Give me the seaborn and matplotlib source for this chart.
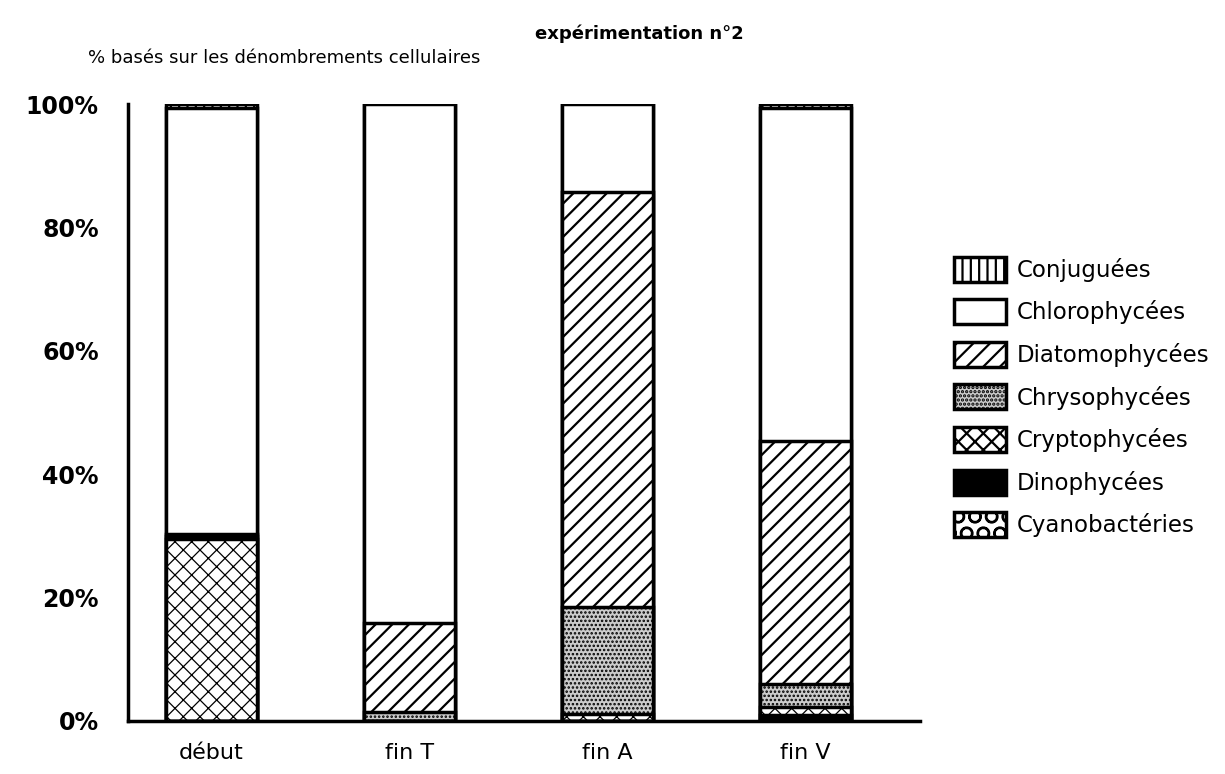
import numpy as np
import pandas as pd
import matplotlib
matplotlib.use("Agg")
import matplotlib.pyplot as plt
import matplotlib.patches as mpatches
import seaborn as sns

# ==========================================
#           DATA (% of cell counts)
# ==========================================
stages = ["début", "fin T", "fin A", "fin V"]

# bottom -> top stacking order
cyanobacteries = [0.0, 0.0, 0.0, 0.0]
dinophycees = [0.0, 0.0, 0.0, 1.0]
cryptophycees = [29.5, 0.0, 1.2, 1.3]
chrysophycees = [0.5, 1.5, 17.3, 3.7]
diatomophycees = [0.3, 14.4, 67.3, 39.4]
chlorophycees = [69.0, 84.1, 14.2, 54.0]
conjuguees = [0.7, 0.0, 0.0, 0.6]

groups = ["Cyanobactéries", "Dinophycées", "Cryptophycées", "Chrysophycées",
          "Diatomophycées", "Chlorophycées", "Conjuguées"]
values = [cyanobacteries, dinophycees, cryptophycees, chrysophycees,
          diatomophycees, chlorophycees, conjuguees]

# ==========================================
#           STYLE
# ==========================================
sns.set_style("white")
plt.rcParams["font.family"] = ["DejaVu Sans"]

faces = {"Cyanobactéries": "white", "Dinophycées": "black", "Cryptophycées": "white",
         "Chrysophycées": "#cccccc", "Diatomophycées": "white",
         "Chlorophycées": "white", "Conjuguées": "white"}
hatches = {"Cyanobactéries": "O", "Dinophycées": None, "Cryptophycées": "xx",
           "Chrysophycées": "....", "Diatomophycées": "//",
           "Chlorophycées": None, "Conjuguées": "||"}
hatch_lw = {"Cryptophycées": 0.9, "Chrysophycées": 1.2}

df = pd.DataFrame(np.array(values).T, columns=groups)
df["stage"] = stages
cum = df[groups].cumsum(axis=1)

fig = plt.figure(figsize=(12.25, 7.74), dpi=100)
ax = fig.add_axes([0.1045, 0.0685, 0.6465, 0.797])

# draw from the top layer down so lower layers cover the upper totals
for g in reversed(groups):
    plt.rcParams["hatch.linewidth"] = hatch_lw.get(g, 1.6)
    sns.barplot(x=df["stage"], y=cum[g], color=faces[g], saturation=1,
                hatch=hatches[g], edgecolor="black", linewidth=2.5,
                width=0.46, ax=ax)

# ==========================================
#           AXES
# ==========================================
x0, x1 = -0.42, 3.58
ax.set_xlim(x0, x1)
ax.set_ylim(0, 100)
ax.set_xlabel("")
ax.set_ylabel("")
ax.set_yticks([0, 20, 40, 60, 80, 100])
ax.set_yticklabels([f"{v}%" for v in [0, 20, 40, 60, 80, 100]],
                   fontsize=17, fontweight="bold")
ax.set_xticks(range(4))
ax.set_xticklabels(stages, fontsize=16)
ax.set_xticks([0.58, 1.58, 2.58, 3.58], minor=True)
ax.tick_params(axis="x", which="major", length=0, pad=16, colors="black")
ax.tick_params(axis="x", which="minor", length=20, width=2, direction="inout")
ax.tick_params(axis="y", length=18, width=2, direction="inout", pad=12,
               colors="black")
for s in ["top", "right"]:
    ax.spines[s].set_visible(False)
for s in ["left", "bottom"]:
    ax.spines[s].set_linewidth(2.5)
    ax.spines[s].set_color("black")
ax.spines["bottom"].set_bounds(x0, x1)

# ==========================================
#           LEGEND
# ==========================================
handles = []
for g in reversed(groups):
    plt.rcParams["hatch.linewidth"] = hatch_lw.get(g, 1.6)
    handles.append(mpatches.Patch(facecolor=faces[g], hatch=hatches[g],
                                  edgecolor="black", linewidth=2.5, label=g))
fig.legend(handles=handles, loc="upper left", bbox_to_anchor=(0.762, 0.695),
           frameon=False, fontsize=16.5, handlelength=2.25, handleheight=1.3,
           labelspacing=0.76, handletextpad=0.5, labelcolor="black")

fig.text(0.522, 0.957, "expérimentation n°2", ha="center", va="center",
         fontsize=13, fontweight="bold", color="black")
fig.text(0.072, 0.925, "% basés sur les dénombrements cellulaires",
         ha="left", va="center", fontsize=13, color="black")

fig.savefig("out.png", dpi=100)
